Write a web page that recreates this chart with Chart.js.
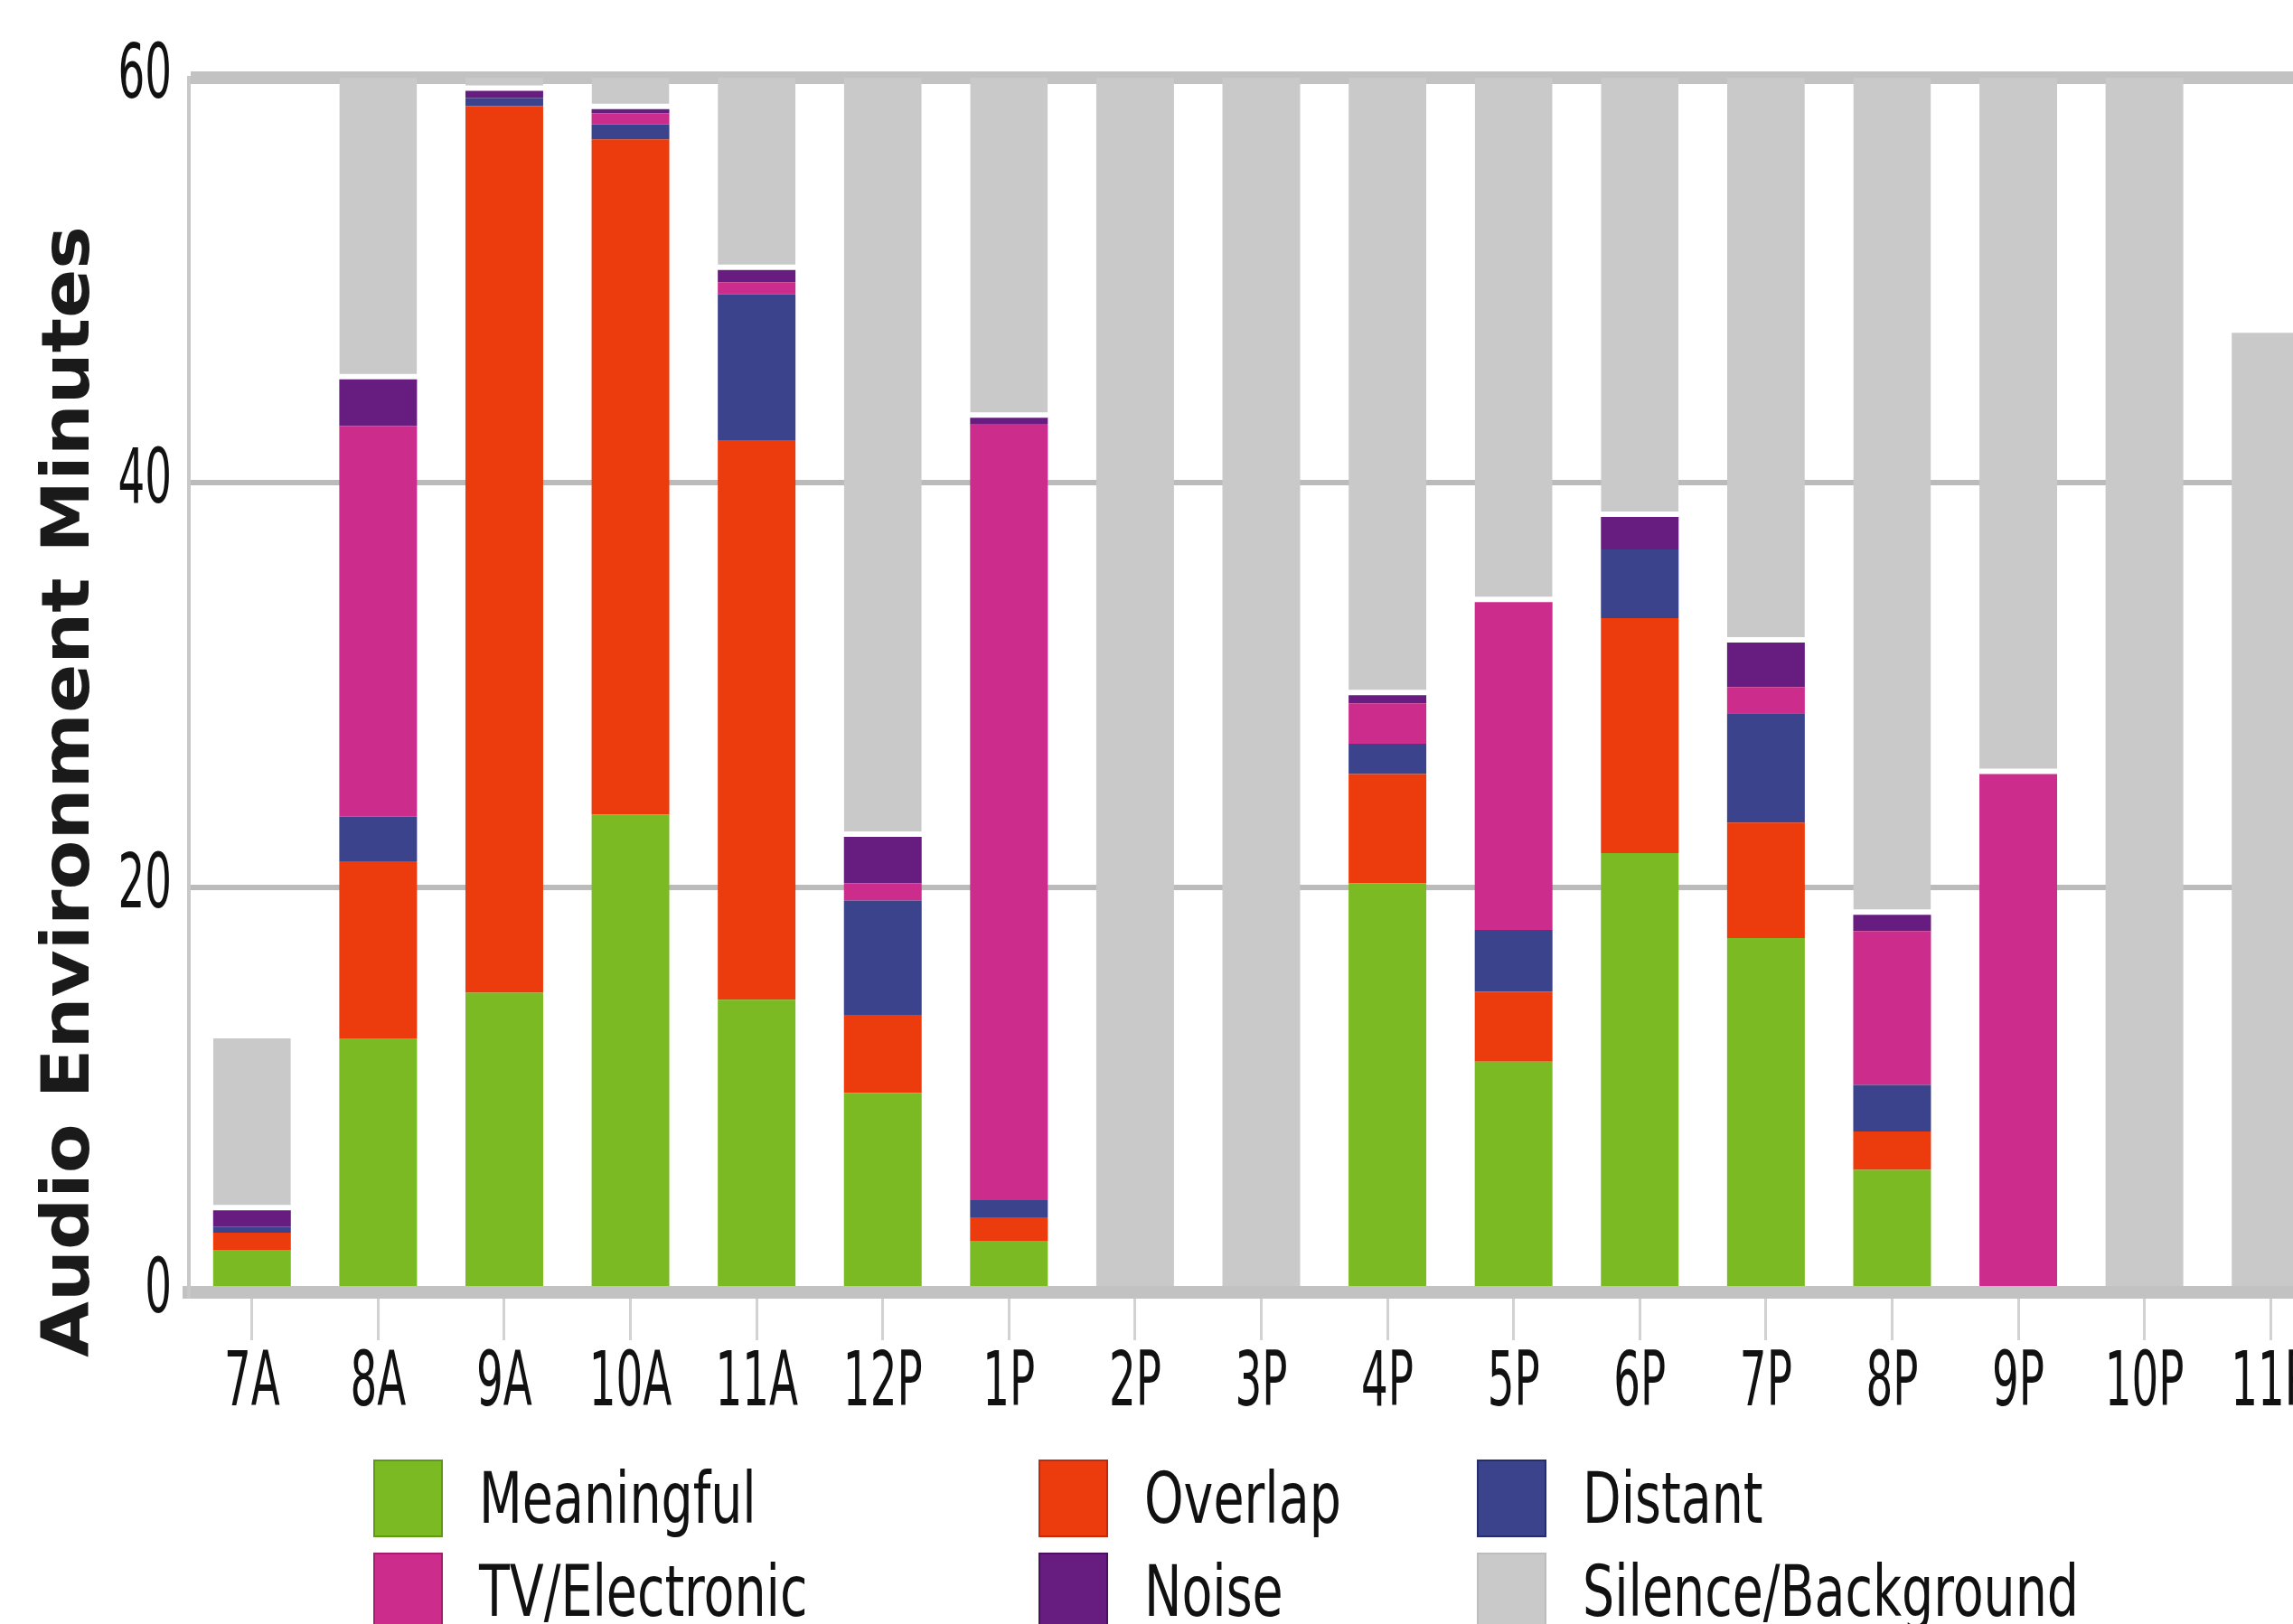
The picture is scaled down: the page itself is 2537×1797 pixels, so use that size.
<!DOCTYPE html>
<html>
<head>
<meta charset="utf-8">
<title>Audio Environment Minutes</title>
<script src="https://cdn.jsdelivr.net/npm/chart.js@4/dist/chart.umd.min.js"></script>
<style>
  html, body { margin: 0; padding: 0; background: #fff; overflow: hidden; }
  #wrap { position: relative; width: 2600px; height: 1600px; }
  #legend {
    position: absolute; left: 413px; top: 1615px;
    display: grid; grid-template-columns: 736px 485px auto; row-gap: 17px;
  }
  .lg-item { display: flex; align-items: center; height: 86px; }
  .lg-box { width: 73px; height: 82px; border: 2px solid; flex: none; }
  .lg-text {
    margin-left: 40px; font: 70px "DejaVu Sans Condensed", "Liberation Sans Narrow", sans-serif;
    color: #111; line-height: 1; white-space: nowrap;
    transform: scale(0.88, 1.12); transform-origin: left center;
  }
</style>
</head>
<body>
<div id="wrap"><canvas id="chart"></canvas></div>
<div id="legend"></div>
<script>
// hour buckets along the x axis
const hours = ['7A','8A','9A','10A','11A','12P','1P','2P','3P','4P','5P','6P','7P','8P','9P','10P','11P'];

// minutes per hour, bottom of the stack first
const meaningful   = [2.1, 12.55, 14.8, 23.6, 14.45, 9.85, 2.55, 0, 0, 20.2, 11.4, 21.7, 17.5, 6.05, 0, 0, 0];
const overlap      = [0.85, 8.75, 43.8, 33.35, 27.65, 3.85, 1.15, 0, 0, 5.4, 3.45, 11.6, 5.7, 1.9, 0, 0, 0];
const distant      = [0.3, 2.2, 0.4, 0.75, 7.2, 5.65, 0.85, 0, 0, 1.5, 3.05, 3.4, 5.4, 2.3, 0, 0, 0];
const tvElectronic = [0, 19.3, 0, 0.55, 0.6, 0.85, 38.35, 0, 0, 2.0, 16.2, 0, 1.3, 7.6, 25.6, 0, 0];
const noise        = [0.8, 2.3, 0.35, 0.2, 0.6, 2.3, 0.3, 0, 0, 0.4, 0, 1.6, 2.2, 0.8, 0, 0, 0];
const silence      = [8.5, 14.9, 0.65, 1.55, 9.5, 37.5, 16.8, 60, 60, 30.5, 25.9, 21.7, 27.9, 41.35, 34.4, 60, 47.4];

const yTicks = [0, 20, 40, 60];

const NARROW = '"DejaVu Sans Condensed", "Liberation Sans Narrow", sans-serif';

// the source image has tall, squeezed lettering: stretch tick text vertically
const TICK_STRETCH = 1.6;
// y title: a touch longer than the font gives, and sitting a bit low
const TITLE_STRETCH = 1.097;
const TITLE_CENTER_Y = 876;

function drawTallLabels(scale, chartArea, k) {
  if (!scale.options.ticks.display) return;
  const ctx = scale.ctx;
  for (const item of scale.getLabelItems(chartArea)) {
    const [tx, ty] = item.options.translation;
    ctx.save();
    ctx.translate(tx, ty);
    ctx.scale(1, k);
    Chart.helpers.renderText(ctx, item.label, 0, item.textOffset, item.font,
      Object.assign({}, item.options, { translation: [0, 0] }));
    ctx.restore();
  }
}

class TallCategory extends Chart.CategoryScale {
  drawLabels(chartArea) { drawTallLabels(this, chartArea, TICK_STRETCH); }
}
TallCategory.id = 'tallCategory';
TallCategory.defaults = Chart.CategoryScale.defaults;

class TallLinear extends Chart.LinearScale {
  drawLabels(chartArea) { drawTallLabels(this, chartArea, TICK_STRETCH); }
  drawTitle() {
    const ctx = this.ctx;
    const mid = (this.top + this.bottom) / 2;
    ctx.save();
    ctx.translate(0, TITLE_CENTER_Y);
    ctx.scale(1, TITLE_STRETCH);
    ctx.translate(0, -mid);
    super.drawTitle();
    ctx.restore();
  }
}
TallLinear.id = 'tallLinear';
TallLinear.defaults = Chart.LinearScale.defaults;

Chart.register(TallCategory, TallLinear);

const nz = a => a.map(v => v || null);   // skip empty segments

// white seam under the grey block when something sits below it
const hasBelow = i => (meaningful[i] + overlap[i] + distant[i] + tvElectronic[i] + noise[i]) > 0;

const mkSet = (label, data, bg, edge) => ({
  label, data: nz(data), backgroundColor: bg, borderColor: edge, borderWidth: 0
});

const datasets = [
  mkSet('Meaningful', meaningful, '#7bba22', '#5f9a12'),
  mkSet('Overlap', overlap, '#ec3c0e', '#c42a05'),
  mkSet('Distant', distant, '#3b438c', '#262d6e'),
  mkSet('TV/Electronic', tvElectronic, '#cc2d8c', '#a81c70'),
  mkSet('Noise', noise, '#671d80', '#4a0f5e'),
  {
    label: 'Silence/Background', data: nz(silence), backgroundColor: '#c9c9c9', borderColor: '#ffffff',
    borderSkipped: false,
    borderWidth: c => hasBelow(c.dataIndex) ? { top: 0, left: 0, right: 0, bottom: 6 } : 0
  }
];

const chart = new Chart(document.getElementById('chart'), {
  type: 'bar',
  data: { labels: hours, datasets },
  options: {
    responsive: true, maintainAspectRatio: false, animation: false,
    layout: { padding: { top: 86, right: 18, bottom: 0, left: 0 } },
    datasets: { bar: { barPercentage: 0.616, categoryPercentage: 1.0 } },
    plugins: { legend: { display: false }, tooltip: { enabled: false } },
    scales: {
      x: {
        type: 'tallCategory', stacked: true, offset: true,
        afterFit: s => { s.height = 170; },
        grid: { drawOnChartArea: false, drawTicks: true, tickLength: 53, offset: false, color: '#d2d2d2', lineWidth: 3 },
        border: { display: true, color: '#c2c2c2', width: 14 },
        ticks: { color: '#111', padding: 0, maxRotation: 0, autoSkip: false, font: { family: NARROW, size: 52 } }
      },
      y: {
        type: 'tallLinear', stacked: true, min: 0, max: 60,
        afterFit: s => { s.width = 209; },
        afterBuildTicks: s => { s.ticks = yTicks.map(v => ({ value: v })); },
        grid: {
          drawTicks: false,
          color: c => (c.tick.value === 60 || c.tick.value === 0) ? '#c2c2c2' : '#bbbbbb',
          lineWidth: c => (c.tick.value === 60 || c.tick.value === 0) ? 14 : 6
        },
        border: { display: true, color: '#c8c8c8', width: 4 },
        ticks: { color: '#111', padding: 19, font: { family: NARROW, size: 52 } },
        title: {
          display: true, text: 'Audio Environment Minutes', align: 'center', color: '#1a1a1a',
          padding: { top: 35, bottom: 0 },
          font: { family: '"DejaVu Sans", Verdana, sans-serif', size: 73, weight: 'bold' }
        }
      }
    }
  }
});

// HTML legend in a 3-column grid, built from the chart's own datasets
const legendEl = document.getElementById('legend');
chart.data.datasets.forEach(ds => {
  const item = document.createElement('div');
  item.className = 'lg-item';
  const box = document.createElement('span');
  box.className = 'lg-box';
  box.style.background = ds.backgroundColor;
  box.style.borderColor = ds.label === 'Silence/Background' ? '#bdbdbd' : ds.borderColor;
  const txt = document.createElement('span');
  txt.className = 'lg-text';
  txt.textContent = ds.label;
  item.appendChild(box);
  item.appendChild(txt);
  legendEl.appendChild(item);
});
</script>
</body>
</html>
